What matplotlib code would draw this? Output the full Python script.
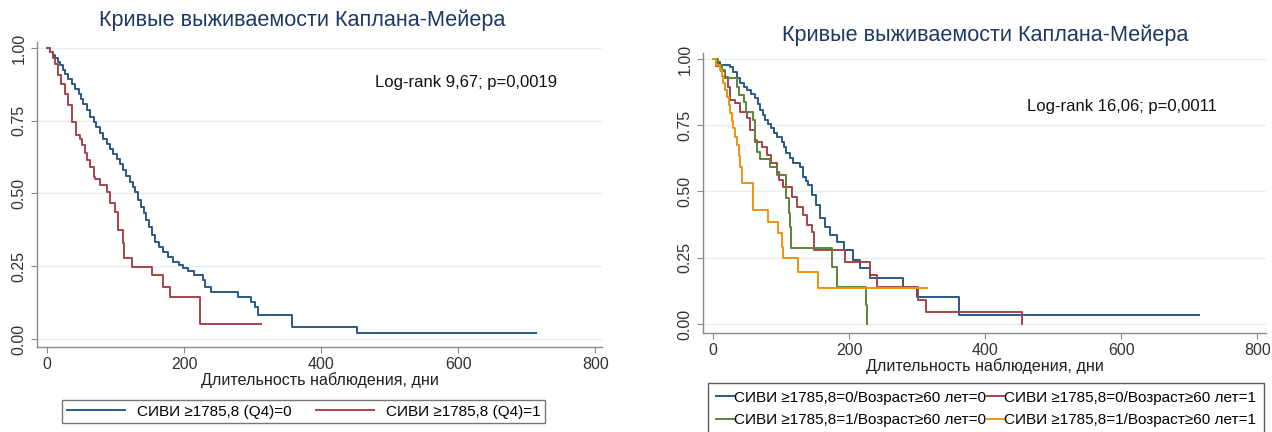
import matplotlib
matplotlib.use("Agg")
import matplotlib.pyplot as plt

plt.rcParams['font.family'] = ['Liberation Sans', 'DejaVu Sans']

# Kaplan-Meier steps, left panel: СИВИ Q4 groups
t_q0 = [0, 5, 9, 12, 16, 19, 23, 26, 31, 36, 41, 46, 50, 53, 58, 63, 68, 72, 77, 82,
        87, 92, 97, 102, 106, 111, 116, 121, 125, 128, 133, 137, 141, 145, 149, 153,
        158, 163, 170, 177, 184, 192, 199, 206, 214, 228, 231, 240, 279, 298, 304,
        308, 357, 452, 713]
s_q0 = [1.0, 0.986, 0.976, 0.966, 0.953, 0.940, 0.926, 0.912, 0.895, 0.877, 0.860,
        0.843, 0.826, 0.809, 0.786, 0.763, 0.746, 0.729, 0.708, 0.688, 0.671, 0.654,
        0.637, 0.620, 0.600, 0.580, 0.560, 0.540, 0.522, 0.505, 0.478, 0.455, 0.432,
        0.409, 0.385, 0.357, 0.334, 0.317, 0.300, 0.283, 0.266, 0.254, 0.243, 0.232,
        0.220, 0.203, 0.180, 0.160, 0.143, 0.126, 0.111, 0.082, 0.042, 0.021, 0.021]

t_q1 = [0, 5, 9, 12, 16, 21, 26, 31, 36, 43, 48, 51, 55, 58, 63, 68, 70, 77, 87, 92,
        99, 104, 111, 113, 124, 153, 170, 180, 223, 313]
s_q1 = [1.0, 0.986, 0.966, 0.946, 0.906, 0.877, 0.843, 0.803, 0.746, 0.701, 0.688,
        0.666, 0.640, 0.614, 0.592, 0.558, 0.551, 0.529, 0.506, 0.466, 0.437, 0.375,
        0.329, 0.277, 0.248, 0.220, 0.180, 0.145, 0.050, 0.050]

# right panel: СИВИ x age groups
t_00 = [0, 5, 10, 25, 30, 35, 40, 45, 50, 56, 62, 66, 69, 73, 76, 81, 86, 90, 94, 101,
        104, 108, 113, 118, 128, 133, 137, 140, 145, 152, 157, 165, 172, 182, 192,
        206, 216, 231, 280, 300, 361, 715]
s_00 = [1.0, 0.99, 0.977, 0.971, 0.952, 0.930, 0.908, 0.895, 0.883, 0.868, 0.852,
        0.830, 0.808, 0.789, 0.770, 0.754, 0.738, 0.722, 0.707, 0.688, 0.666, 0.644,
        0.625, 0.606, 0.594, 0.556, 0.540, 0.525, 0.487, 0.449, 0.399, 0.367, 0.336,
        0.311, 0.279, 0.242, 0.210, 0.172, 0.141, 0.103, 0.034, 0.034]

t_01 = [0, 5, 12, 18, 22, 25, 32, 40, 50, 54, 62, 72, 79, 86, 94, 97, 103, 116, 123,
        133, 138, 145, 148, 194, 231, 241, 302, 313, 454]
s_01 = [1.0, 0.975, 0.955, 0.933, 0.896, 0.845, 0.833, 0.801, 0.776, 0.732, 0.688,
        0.669, 0.638, 0.606, 0.575, 0.543, 0.518, 0.480, 0.443, 0.411, 0.374, 0.348,
        0.279, 0.235, 0.185, 0.141, 0.091, 0.046, 0.0]

t_10 = [0, 7, 13, 18, 35, 38, 46, 49, 59, 62, 64, 69, 84, 94, 108, 111, 113, 115,
        175, 182, 225, 227]
s_10 = [1.0, 0.979, 0.958, 0.930, 0.896, 0.863, 0.838, 0.800, 0.769, 0.693, 0.649,
        0.624, 0.592, 0.561, 0.474, 0.420, 0.367, 0.286, 0.216, 0.141, 0.072, 0.0]

t_11 = [0, 5, 10, 13, 15, 18, 20, 23, 25, 28, 30, 33, 35, 38, 40, 42, 59, 81, 96,
        101, 103, 125, 155, 314]
s_11 = [1.0, 0.979, 0.958, 0.935, 0.908, 0.883, 0.858, 0.826, 0.795, 0.766, 0.738,
        0.707, 0.676, 0.635, 0.594, 0.531, 0.430, 0.386, 0.342, 0.292, 0.248, 0.197,
        0.135, 0.135]

labels_left = ['СИВИ ≥1785,8 (Q4)=0', 'СИВИ ≥1785,8 (Q4)=1']
labels_right = ['СИВИ ≥1785,8=0/Возраст≥60 лет=0', 'СИВИ ≥1785,8=0/Возраст≥60 лет=1',
                'СИВИ ≥1785,8=1/Возраст≥60 лет=0', 'СИВИ ≥1785,8=1/Возраст≥60 лет=1']

title = 'Кривые выживаемости Каплана-Мейера'
xlab = 'Длительность наблюдения, дни'
yticks = [0, 0.25, 0.5, 0.75, 1.0]
xticks = [0, 200, 400, 600, 800]

navy = '#295985'
maroon = '#a6434b'
green = '#5b8537'
orange = '#ee930f'

W, H = 1272, 432
fig = plt.figure(figsize=(W / 100, H / 100), dpi=100)


def px_axes(x0, x1, y0, y1):
    return fig.add_axes([x0 / W, 1 - y1 / H, (x1 - x0) / W, (y1 - y0) / H])


def style(ax):
    for sp in ['top', 'right']:
        ax.spines[sp].set_visible(False)
    for sp in ['left', 'bottom']:
        ax.spines[sp].set_color('#8a8a8a')
        ax.spines[sp].set_linewidth(1.0)
    ax.set_yticks(yticks)
    ax.set_yticklabels(['%.2f' % v for v in yticks], rotation=90, va='center')
    ax.set_xticks(xticks)
    ax.tick_params(direction='out', length=4, color='#8a8a8a', labelsize=11.5,
                   labelcolor='#333333')
    ax.grid(axis='y', color='#e6eff1', lw=1.0)
    ax.set_axisbelow(True)


# left panel
ax1 = px_axes(37, 602, 42, 347)
ax1.step(t_q0, s_q0, where='post', color=navy, lw=1.4)
ax1.step(t_q1, s_q1, where='post', color=maroon, lw=1.4)
ax1.set_xlim(-14.6, 810)
ax1.set_ylim(-0.0275, 1.0206)
style(ax1)
ax1.set_xlabel(xlab, fontsize=11.6, color='#222222', labelpad=0)
fig.text(302 / W, 1 - 20 / H, title, ha='center', va='center', fontsize=15.6,
         color='#1f3864')
fig.text(375 / W, 1 - 83 / H, 'Log-rank 9,67; p=0,0019', ha='left', va='center',
         fontsize=12, color='#111111')
fig.legend(handles=ax1.get_lines(), labels=labels_left, ncol=2,
           loc='upper left', bbox_to_anchor=(62 / W, 1 - 400 / H), fontsize=11,
           frameon=True, fancybox=False, edgecolor='#555555', handlelength=3.8,
           columnspacing=1.6, borderaxespad=0, borderpad=0.3)

# right panel
ax2 = px_axes(703, 1266, 53, 333)
lines2 = []
for t, s, c in [(t_00, s_00, navy), (t_01, s_01, maroon),
                (t_10, s_10, green), (t_11, s_11, orange)]:
    lines2 += ax2.step(t, s, where='post', color=c, lw=1.4)
ax2.set_xlim(-14.7, 813)
ax2.set_ylim(-0.034, 1.0226)
style(ax2)
ax2.set_xlabel(xlab, fontsize=11.6, color='#222222', labelpad=0)
fig.text(985 / W, 1 - 35 / H, title, ha='center', va='center', fontsize=15.6,
         color='#1f3864')
fig.text(1027 / W, 1 - 107 / H, 'Log-rank 16,06; p=0,0011', ha='left', va='center',
         fontsize=12, color='#111111')
# legend fills column by column, so reorder to keep rows as 0/0, 0/1 then 1/0, 1/1
order = [0, 2, 1, 3]
fig.legend(handles=[lines2[i] for i in order], labels=[labels_right[i] for i in order],
           ncol=2, loc='upper left', bbox_to_anchor=(708 / W, 1 - 383 / H),
           fontsize=11, frameon=True, fancybox=False, edgecolor='#333333',
           handlelength=1.2, handletextpad=0, columnspacing=0, borderaxespad=0,
           borderpad=0.5, labelspacing=0.55)

fig.savefig('out.png', dpi=100)
